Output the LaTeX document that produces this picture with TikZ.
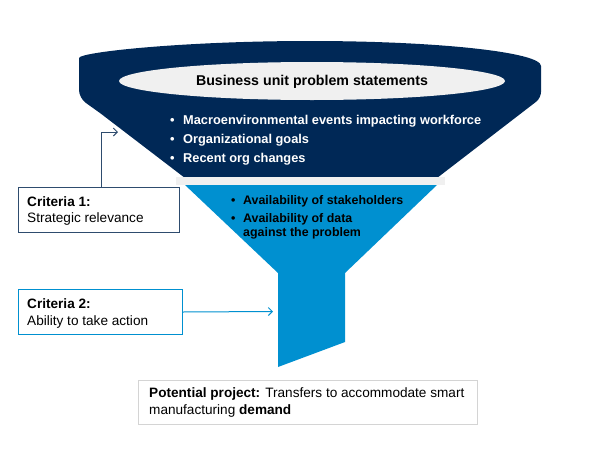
\documentclass[tikz,border=0pt]{standalone}
\usepackage{fontspec}
\setmainfont{Liberation Sans}
\usetikzlibrary{arrows.meta}
\definecolor{navy}{HTML}{002856}
\definecolor{fblue}{HTML}{0090D0}
\definecolor{lgray}{HTML}{F0F0F0}
\definecolor{bgray}{HTML}{D4D4D4}
\definecolor{c1border}{HTML}{2E4C6E}
\begin{document}
\begin{tikzpicture}[x=1pt,y=-1pt,
  txt/.style={anchor=base west,inner sep=0pt,font=\fontsize{12.8}{15}\selectfont},
  wtxt/.style={txt,text=white,font=\fontsize{12.8}{15}\selectfont\bfseries},
  btxt/.style={txt,text=black,font=\fontsize{12.4}{15}\selectfont\bfseries},
  boxtxt/.style={txt,font=\fontsize{13.6}{15}\selectfont},
  critbox/.style={inner sep=0pt,anchor=north west,line width=1pt},
  arr/.style={line width=1pt,-{Straight Barb[length=4pt,width=8pt]}}
]
\useasboundingbox (0,0) rectangle (594,458);
% top dark part of funnel
\fill[navy] (100,113) [rounded corners=8pt] -- (79,98) -- (79,66) [sharp corners] arc[start angle=180,end angle=0,x radius=231pt,y radius=25pt]
  [rounded corners=6pt] -- (541,98) [sharp corners] -- (437,178) -- (185,178) -- cycle;
% gray band
\fill[lgray] (176,177) rectangle (445,185);
% blue lower part and spout
\fill[fblue] (185,185) -- (437,185) -- (345,273) -- (345,342) -- (278,367) -- (278,273) -- cycle;
% inner ellipse
\fill[lgray] (312,81) ellipse[x radius=193pt,y radius=19pt];
\node[anchor=base,inner sep=0pt,font=\fontsize{14.2}{15}\selectfont\bfseries] (title) at (312,85) {Business unit problem statements};
% white bullets
\node[wtxt] (d1) at (170,124) {•};
\node[wtxt] (t1) at (183,124) {Macroenvironmental events impacting workforce};
\node[wtxt] (d2) at (170,143) {•};
\node[wtxt] (t2) at (183,143) {Organizational goals};
\node[wtxt] (d3) at (170,162) {•};
\node[wtxt] (t3) at (183,162) {Recent org changes};
% blue bullets
\node[btxt] (d4) at (231,204) {•};
\node[btxt] (t4) at (243,204) {Availability of stakeholders};
\node[btxt] (d5) at (231,222) {•};
\node[btxt] (t5) at (243,222) {Availability of data};
\node[btxt] (t6) at (243,236) {against the problem};
% criteria 1
\node[critbox,draw=c1border,minimum width=161pt,minimum height=45pt] (c1) at (18,187) {};
\node[boxtxt,font=\fontsize{13.6}{15}\selectfont\bfseries] (c1a) at (27,206) {Criteria 1:};
\node[boxtxt] (c1b) at (27,222) {Strategic relevance};
\coordinate (a1end) at (118,132);
\draw[arr,draw=c1border] ([xshift=2.5pt]c1.north) |- (a1end);
% criteria 2
\node[critbox,draw=fblue,minimum width=164pt,minimum height=45pt] (c2) at (18,289) {};
\node[boxtxt,font=\fontsize{13.6}{15}\selectfont\bfseries] (c2a) at (27,308) {Criteria 2:};
\node[boxtxt] (c2b) at (27,325) {Ability to take action};
\coordinate (a2end) at (273,311.5);
\draw[arr,draw=fblue] (c2.east) -- (a2end);
% potential project
\node[critbox,draw=bgray,minimum width=339pt,minimum height=44pt] (pp) at (138,380) {};
\node[boxtxt] (pp1) at (149,397) {\textbf{Potential project:} Transfers to accommodate smart};
\node[boxtxt] (pp2) at (149,414) {manufacturing \textbf{demand}};
\end{tikzpicture}
\end{document}
